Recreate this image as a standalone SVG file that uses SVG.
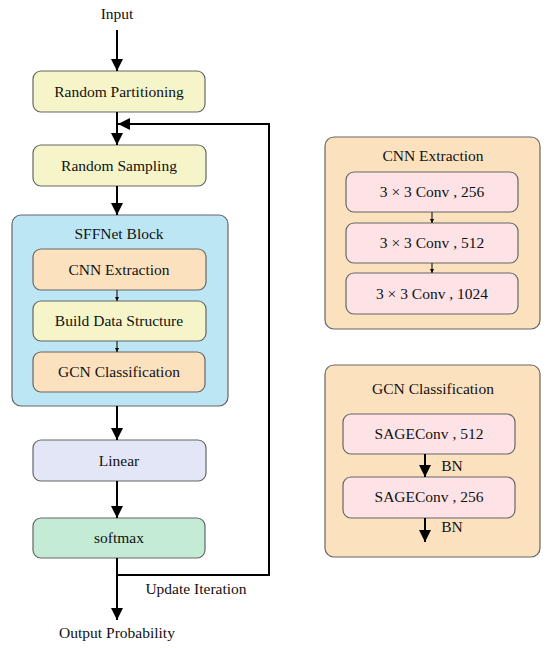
<svg xmlns="http://www.w3.org/2000/svg" width="550" height="648" viewBox="0 0 550 648">
<defs>
<marker id="ah" viewBox="0 0 10 10" refX="10" refY="5" markerWidth="6" markerHeight="6" orient="auto" markerUnits="strokeWidth"><path d="M0,0 L10,5 L0,10 z" fill="#000"/></marker>
<marker id="as" viewBox="0 0 10 10" refX="10" refY="5" markerWidth="4" markerHeight="4" orient="auto" markerUnits="strokeWidth"><path d="M0,0 L10,5 L0,10 z" fill="#000"/></marker>
</defs>
<style>
text{font-family:"Liberation Serif","Times New Roman",serif;font-size:15.5px;fill:#111;text-anchor:middle}
.b{stroke:#666;stroke-width:1.2}
.y{fill:#F5F5C9}
.o{fill:#FCE1BF}
.bl{fill:#BDE6F5}
.lv{fill:#E3E6F6}
.g{fill:#C3EBD6}
.p{fill:#FDE3E6}
.c{fill:none;stroke:#000;stroke-width:2}
.cs{fill:none;stroke:#000;stroke-width:1}
</style>
<rect width="550" height="648" fill="#fff"/>
<g id="input"><text x="117" y="19">Input</text></g>
<g id="random-partitioning"><rect class="b y" x="33" y="71" width="172" height="41" rx="8"/><text x="119" y="97">Random Partitioning</text></g>
<g id="random-sampling"><rect class="b y" x="33" y="145" width="173" height="41" rx="8"/><text x="119" y="171">Random Sampling</text></g>
<g id="sffnet-block"><rect class="b bl" x="12" y="215" width="216" height="191" rx="9"/><text x="119" y="239">SFFNet Block</text>
<g id="cnn-extraction"><rect class="b o" x="33" y="249" width="173" height="41" rx="8"/><text x="119" y="275">CNN Extraction</text></g>
<g id="build-data-structure"><rect class="b y" x="33" y="301" width="173" height="40" rx="8"/><text x="119" y="326">Build Data Structure</text></g>
<g id="gcn-classification"><rect class="b o" x="33" y="352" width="172" height="40" rx="8"/><text x="119" y="377">GCN Classification</text></g>
</g>
<g id="linear"><rect class="b lv" x="33" y="440" width="173" height="41" rx="8"/><text x="119" y="466">Linear</text></g>
<g id="softmax"><rect class="b g" x="33" y="518" width="172" height="40" rx="8"/><text x="119" y="543">softmax</text></g>
<g id="output"><text x="117" y="638">Output Probability</text></g>
<g id="update-label"><text x="196" y="594">Update Iteration</text></g>
<g id="cnn-panel"><rect class="b o" x="325" y="137" width="215" height="192" rx="9"/><text x="433" y="161">CNN Extraction</text>
<g id="conv256"><rect class="b p" x="346" y="172" width="172" height="40" rx="8"/><text x="432" y="197">3 × 3 Conv , 256</text></g>
<g id="conv512"><rect class="b p" x="346" y="223" width="172" height="40" rx="8"/><text x="432" y="248">3 × 3 Conv , 512</text></g>
<g id="conv1024"><rect class="b p" x="346" y="273" width="172" height="41" rx="8"/><text x="432" y="299">3 × 3 Conv , 1024</text></g>
</g>
<g id="gcn-panel"><rect class="b o" x="325" y="365" width="215" height="192" rx="9"/><text x="433" y="394">GCN Classification</text>
<g id="sage512"><rect class="b p" x="343" y="414" width="172" height="40" rx="8"/><text x="429" y="439">SAGEConv , 512</text></g>
<g id="sage256"><rect class="b p" x="343" y="477" width="172" height="41" rx="8"/><text x="429" y="502">SAGEConv , 256</text></g>
<text x="452" y="471">BN</text>
<text x="452" y="532">BN</text>
</g>
<g id="connectors">
<line class="c" x1="117" y1="30" x2="117" y2="71" marker-end="url(#ah)"/>
<line class="c" x1="117" y1="112" x2="117" y2="145" marker-end="url(#ah)"/>
<polyline class="c" points="269,575 269,124 118,124" marker-end="url(#ah)"/>
<line class="c" x1="117" y1="186" x2="117" y2="215" marker-end="url(#ah)"/>
<line class="cs" x1="117" y1="290" x2="117" y2="301" marker-end="url(#as)"/>
<line class="cs" x1="117" y1="341" x2="117" y2="352" marker-end="url(#as)"/>
<line class="c" x1="117" y1="406" x2="117" y2="440" marker-end="url(#ah)"/>
<line class="c" x1="117" y1="481" x2="117" y2="518" marker-end="url(#ah)"/>
<line class="c" x1="117" y1="558" x2="117" y2="620" marker-end="url(#ah)"/>
<line class="c" x1="116" y1="575" x2="270" y2="575"/>
<line class="cs" x1="432" y1="212" x2="432" y2="223" marker-end="url(#as)"/>
<line class="cs" x1="432" y1="263" x2="432" y2="273" marker-end="url(#as)"/>
<line class="c" x1="425" y1="454" x2="425" y2="477" marker-end="url(#ah)"/>
<line class="c" x1="425" y1="518" x2="425" y2="542" marker-end="url(#ah)"/>
</g>
</svg>
